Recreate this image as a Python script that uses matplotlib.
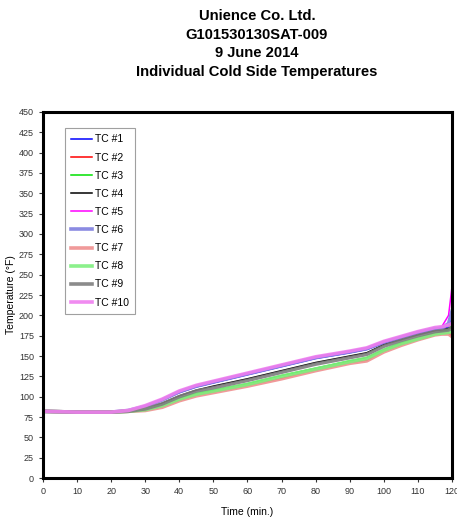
import matplotlib; matplotlib.use("Agg")
import matplotlib.pyplot as plt

plt.rcParams["font.family"] = ["Liberation Sans", "DejaVu Sans"]

# time grid (min.)
t = [0, 10, 20, 25, 30, 35, 40, 45, 50, 60, 70, 80, 90, 95, 100, 105, 110, 115, 117, 119, 120]

tc1  = [82, 81, 81, 83, 88, 96, 105, 112, 117, 127, 137, 147, 154, 158, 166, 172, 178, 183, 184, 186, 195]
tc2  = [82, 81, 81, 82, 83, 88, 96, 102, 106, 114, 123, 133, 142, 145, 156, 164, 171, 177, 178, 178, 175]
tc3  = [82, 81, 81, 82, 84, 90, 98, 104, 108, 116, 126, 135, 144, 148, 158, 166, 172, 178, 180, 182, 190]
tc4  = [82, 81, 81, 82, 85, 92, 101, 108, 113, 122, 132, 142, 150, 154, 164, 170, 176, 181, 182, 184, 185]
tc5  = [82, 81, 81, 83, 89, 97, 107, 114, 119, 129, 139, 149, 156, 160, 168, 174, 180, 184, 186, 200, 235]
tc6  = [82, 81, 81, 83, 88, 96, 106, 113, 118, 128, 138, 148, 155, 159, 167, 173, 179, 184, 184, 190, 205]
tc7  = [82, 81, 81, 82, 83, 87, 95, 101, 105, 113, 122, 132, 141, 144, 155, 163, 170, 176, 177, 177, 174]
tc8  = [82, 81, 81, 82, 84, 89, 97, 103, 107, 115, 125, 134, 143, 147, 157, 165, 171, 177, 178, 179, 180]
tc9  = [82, 81, 81, 82, 85, 91, 100, 107, 111, 120, 130, 140, 148, 152, 162, 169, 175, 180, 181, 182, 185]
tc10 = [82, 81, 81, 83, 89, 97, 107, 114, 119, 129, 139, 149, 156, 160, 168, 174, 180, 185, 186, 188, 190]

labels = ["TC #1", "TC #2", "TC #3", "TC #4", "TC #5", "TC #6", "TC #7", "TC #8", "TC #9", "TC #10"]
series = [tc1, tc2, tc3, tc4, tc5, tc6, tc7, tc8, tc9, tc10]
colors = ["#0000ff", "#ff0000", "#00e000", "#000000", "#ff00ff",
          "#7f7fdf", "#ef8f8f", "#7fef7f", "#7f7f7f", "#ef7fef"]

fig = plt.figure(figsize=(4.57, 5.17), dpi=100)
ax = fig.add_axes([0.094, 0.0754, 0.895, 0.708])

for i, (y, lab, c) in enumerate(zip(series, labels, colors)):
    if i < 5:
        ax.plot(t, y, color=c, lw=1.1, label=lab)
    else:
        ax.plot(t, y, color=c, lw=2.6, label=lab, alpha=0.9)

ax.set_xlim(0, 120)
ax.set_ylim(0, 450)
ax.set_xticks(range(0, 121, 10))
ax.set_yticks(range(0, 451, 25))
ax.tick_params(labelsize=6.5, length=3, width=0.8, colors="#333", direction="out")
for s in ax.spines.values():
    s.set_linewidth(2.2)
ax.set_xlabel("Time (min.)", fontsize=7.5, labelpad=8)
ax.set_ylabel("Temperature (°F)", fontsize=7.5, labelpad=2)

leg = ax.legend(loc="upper left", bbox_to_anchor=(0.04, 0.97), fontsize=7.5,
                frameon=True, fancybox=False, edgecolor="#888", handlelength=2.0,
                labelspacing=0.78, handletextpad=0.3, borderpad=0.6)
leg.get_frame().set_linewidth(0.8)

title_lines = ["Unience Co. Ltd.", "G101530130SAT-009", "9 June 2014", "Individual Cold Side Temperatures"]
for k, line in enumerate(title_lines):
    fig.text(0.562, 1 - (16 + 18.7 * k) / 517, line, ha="center", va="center",
             fontsize=10.6, fontweight="bold")

fig.savefig("out.png", dpi=100)
